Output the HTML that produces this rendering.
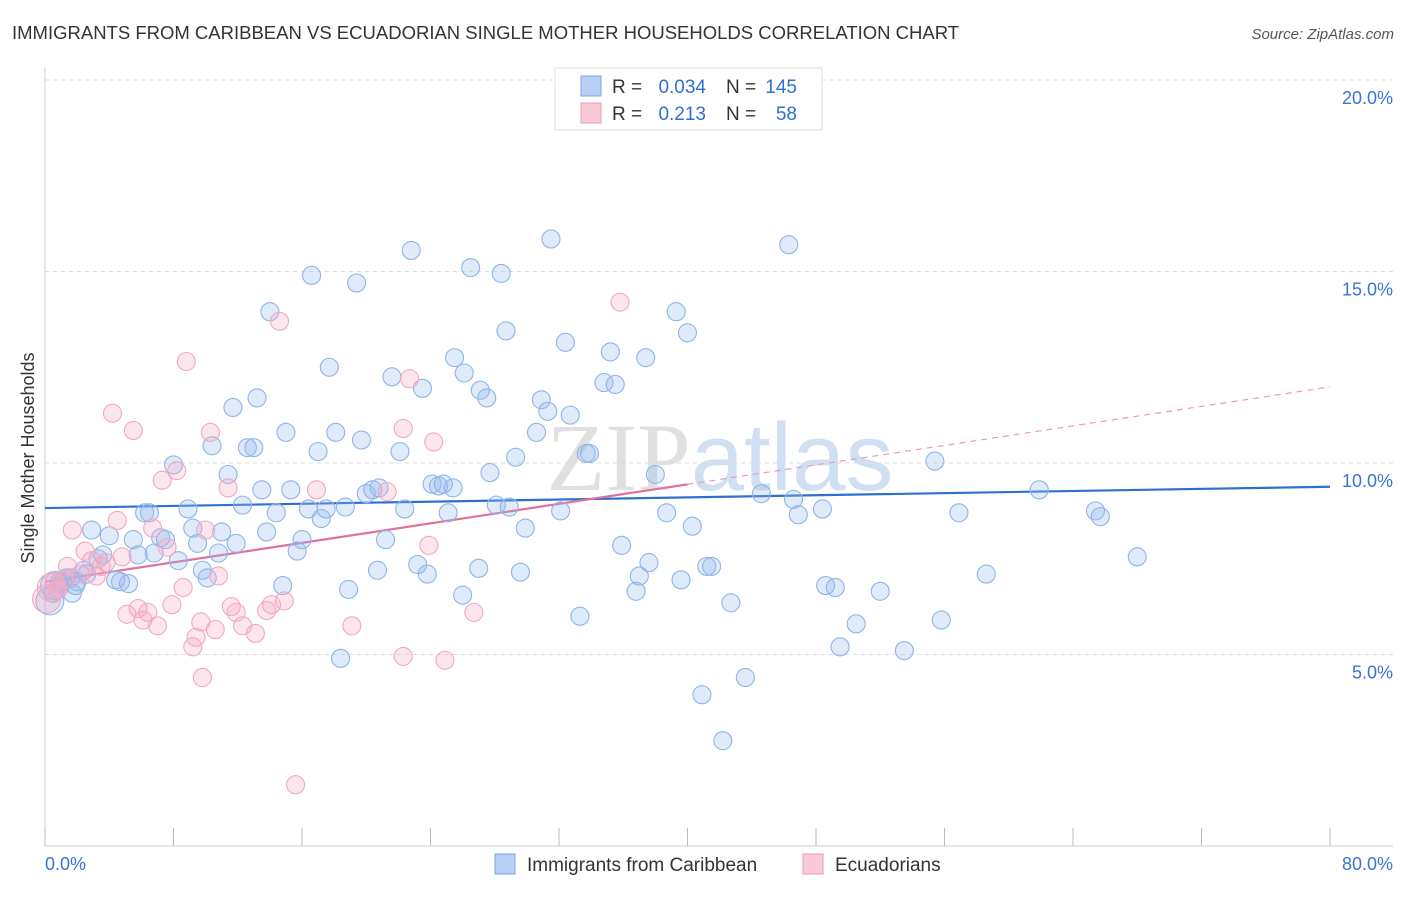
<!DOCTYPE html>
<html><head><meta charset="utf-8"><style>
body{margin:0;background:#fff;font-family:"Liberation Sans",sans-serif;}
svg text{font-family:"Liberation Sans",sans-serif;}
</style></head><body>
<svg id="chart" width="1406" height="892" viewBox="0 0 1406 892" xmlns="http://www.w3.org/2000/svg">
<text x="12" y="39" font-size="18.5" fill="#333">IMMIGRANTS FROM CARIBBEAN VS ECUADORIAN SINGLE MOTHER HOUSEHOLDS CORRELATION CHART</text>
<text x="1394" y="39" font-size="15" fill="#555" text-anchor="end" font-style="italic">Source: ZipAtlas.com</text>
<text x="720" y="490" font-size="96" fill="#d8e4f2" text-anchor="middle" opacity="0.8"><tspan fill="#d9d9d9" font-family="Liberation Serif">ZIP</tspan><tspan fill="#c5d8f0">atlas</tspan></text>
<g id="grid"></g>
<g id="axes"></g>
<g id="trends"></g>
<g id="points"></g>
<text transform="translate(34,458) rotate(-90)" font-size="18" fill="#333" text-anchor="middle">Single Mother Households</text>
<g>
<rect x="555" y="68" width="267" height="62" fill="#fff" stroke="#ddd"/>
<rect x="581" y="76" width="20" height="20" fill="#b8d0f5" stroke="#7aa5e0"/>
<text x="612" y="93" font-size="19" fill="#333">R =</text>
<text x="706" y="93" font-size="19" fill="#2f6fd0" text-anchor="end">0.034</text>
<text x="726" y="93" font-size="19" fill="#333">N =</text>
<text x="797" y="93" font-size="19" fill="#2f6fd0" text-anchor="end">145</text>
<rect x="581" y="103" width="20" height="20" fill="#f9c9d8" stroke="#e89ab5"/>
<text x="612" y="120" font-size="19" fill="#333">R =</text>
<text x="706" y="120" font-size="19" fill="#2f6fd0" text-anchor="end">0.213</text>
<text x="726" y="120" font-size="19" fill="#333">N =</text>
<text x="797" y="120" font-size="19" fill="#2f6fd0" text-anchor="end">58</text>
</g>
<g>
<rect x="495" y="854" width="20" height="20" fill="#b8d0f5" stroke="#7aa5e0"/>
<text x="527" y="871" font-size="19" fill="#333">Immigrants from Caribbean</text>
<rect x="803" y="854" width="20" height="20" fill="#f9c9d8" stroke="#e89ab5"/>
<text x="835" y="871" font-size="19" fill="#333">Ecuadorians</text>
</g>
</svg>
<script>
const xTicks=[0,8,16,24,32,40,48,56,64,72,80];
const yTicks=[5,10,15,20];
const yTickLabels=["5.0%","10.0%","15.0%","20.0%"];
const xEndLabels=["0.0%","80.0%"];
const blueX=[0.3,0.6,1.1,1.6,1.7,2.0,2.9,3.6,4.0,4.4,4.7,5.2,5.5,5.8,6.2,6.5,6.8,7.2,7.5,8.0,8.3,8.9,9.2,9.5,9.8,10.1,10.4,10.8,11.0,11.4,11.7,11.9,12.3,12.6,13.0,13.2,13.5,13.8,14.0,14.4,14.8,15.0,15.3,15.7,16.0,16.4,16.6,17.0,17.2,17.5,17.7,18.1,18.4,18.7,18.9,19.4,19.7,20.0,20.4,20.8,21.2,20.7,21.6,22.1,22.4,22.8,23.2,23.5,23.8,24.1,24.5,24.8,25.1,25.4,25.5,26.0,26.1,26.5,27.0,27.1,27.5,27.7,28.1,28.4,28.7,28.9,29.3,29.6,29.9,30.6,30.9,31.3,31.5,32.1,32.4,32.7,33.3,33.7,33.9,34.8,35.2,35.5,35.9,36.8,37.0,37.4,37.6,38.0,38.7,39.3,39.6,40.0,40.3,40.9,41.2,41.5,42.2,42.7,43.6,44.6,46.3,46.6,46.9,48.4,48.6,49.2,49.5,50.5,52.0,53.5,55.4,55.8,56.9,58.6,61.9,65.4,65.7,68.0,0.9,1.3,2.4,3.3,0.5,1.9,2.6];
const blueY=[6.4,6.8,6.9,7.0,6.6,6.9,8.25,7.6,8.1,6.95,6.9,6.85,8.0,7.6,8.7,8.7,7.65,8.05,8.0,9.95,7.45,8.8,8.3,7.9,7.2,7.0,10.45,7.65,8.2,9.7,11.45,7.9,8.9,10.4,10.4,11.7,9.3,8.2,13.95,8.7,6.8,10.8,9.3,7.7,8.0,8.8,14.9,10.3,8.55,8.8,12.5,10.8,4.9,8.85,6.7,14.7,10.6,9.2,9.3,9.35,8.0,7.2,12.25,10.3,8.8,15.55,7.35,11.95,7.1,9.45,9.4,9.45,8.7,9.35,12.75,6.55,12.35,15.1,7.25,11.9,11.7,9.75,8.9,14.95,13.45,8.85,10.15,7.15,8.3,10.8,11.65,11.35,15.85,8.75,13.15,11.25,6.0,10.25,10.25,12.1,12.9,12.05,7.85,6.65,7.05,12.75,7.4,9.7,8.7,13.95,6.95,13.4,8.35,3.95,7.3,7.3,2.75,6.35,4.4,9.2,15.7,9.05,8.65,8.8,6.8,6.75,5.2,5.8,6.65,5.1,10.05,5.9,8.7,7.1,9.3,8.75,8.6,7.55,6.9,7.0,7.2,7.5,6.6,6.8,7.1];
const pinkX=[0.1,0.4,0.8,1.2,1.4,1.7,2.2,2.5,2.9,3.2,3.5,3.8,4.2,4.5,4.8,5.1,5.5,5.8,6.1,6.4,6.7,7.0,7.3,7.6,7.9,8.2,8.6,8.8,9.2,9.4,9.7,10.0,9.8,10.3,10.6,10.8,11.4,11.6,11.9,12.3,13.1,13.8,14.1,14.6,14.9,15.6,16.9,19.1,21.3,22.3,22.3,22.7,23.9,24.2,24.9,26.7,35.8,0.6];
const pinkY=[6.45,6.75,6.7,6.95,7.3,8.25,7.1,7.7,7.45,7.05,7.3,7.4,11.3,8.5,7.55,6.05,10.85,6.2,5.9,6.1,8.3,5.75,9.55,7.8,6.3,9.8,6.75,12.65,5.2,5.45,5.85,8.25,4.4,10.8,5.65,7.05,9.35,6.25,6.1,5.75,5.55,6.15,6.3,13.7,6.4,1.6,9.3,5.75,9.25,4.95,10.9,12.2,7.85,10.55,4.85,6.1,14.2,6.9];
const X0=45,X1=1330,Y0=846,PPU=38.3;
const sx=v=>X0+(v/80)*(X1-X0);
const sy=v=>Y0-v*PPU;
const NS="http://www.w3.org/2000/svg";
function mk(tag,attrs,parent){const e=document.createElementNS(NS,tag);for(const k in attrs)e.setAttribute(k,attrs[k]);parent.appendChild(e);return e;}
const grid=document.getElementById('grid'),axes=document.getElementById('axes'),trends=document.getElementById('trends'),pts=document.getElementById('points');
yTicks.forEach((t,i)=>{
 const l=mk('line',{x1:X0,x2:1393,y1:sy(t),y2:sy(t),stroke:'#ddd','stroke-dasharray':'4,4'},grid);
 
 
 const tx=mk('text',{x:1393,y:sy(t)+24,'font-size':18,fill:'#3b73d4','text-anchor':'end'},axes);
 tx.textContent=yTickLabels[i];
 
 
});
const ax=mk('line',{x1:X0,x2:X0,y1:68,y2:Y0,stroke:'#ccc'},axes);


const bx=mk('line',{x1:X0,x2:1393,y1:Y0,y2:Y0,stroke:'#ccc'},axes);


xTicks.forEach(t=>{
 const l=mk('line',{x1:sx(t),x2:sx(t),y1:828,y2:Y0,stroke:'#bbb'},axes);
 
 
});
const xl0=mk('text',{x:45,y:870,'font-size':18,fill:'#3b73d4'},axes);xl0.textContent=xEndLabels[0];


const xl1=mk('text',{x:1393,y:870,'font-size':18,fill:'#3b73d4','text-anchor':'end'},axes);xl1.textContent=xEndLabels[1];


function reg(xs,ys){const n=xs.length;let mx=0,my=0;for(let i=0;i<n;i++){mx+=xs[i];my+=ys[i];}mx/=n;my/=n;let a=0,b=0;for(let i=0;i<n;i++){a+=(xs[i]-mx)*(ys[i]-my);b+=(xs[i]-mx)**2;}const s=a/b;return[s,my-s*mx];}
function drawPts(xs,ys,fill,stroke,name){xs.forEach((x,i)=>{const r=(x<0.7&&i<2)?14:9;const c=mk('circle',{cx:sx(x),cy:sy(ys[i]),r:r,fill:fill,stroke:stroke,'stroke-width':1.1},pts);
 
 });}
drawPts(blueX,blueY,'rgba(150,185,240,0.3)','#8fb4e8','point-caribbean');
drawPts(pinkX,pinkY,'rgba(248,170,195,0.3)','#efa9c2','point-ecuadorian');
const [bs,bi]=reg(blueX,blueY);
const bl=mk('line',{x1:sx(0),y1:sy(bi),x2:sx(80),y2:sy(bi+bs*80),stroke:'#2f6fd0','stroke-width':2.2},trends);


const [ps,pi]=reg(pinkX,pinkY);
const pl=mk('line',{x1:sx(0),y1:sy(pi),x2:sx(40),y2:sy(pi+ps*40),stroke:'#e0719a','stroke-width':2.2},trends);


const pd=mk('line',{x1:sx(40),y1:sy(pi+ps*40),x2:sx(80),y2:sy(pi+ps*80),stroke:'#e89ab5','stroke-width':1.2,'stroke-dasharray':'6,5'},trends);


</script>
</body></html>
